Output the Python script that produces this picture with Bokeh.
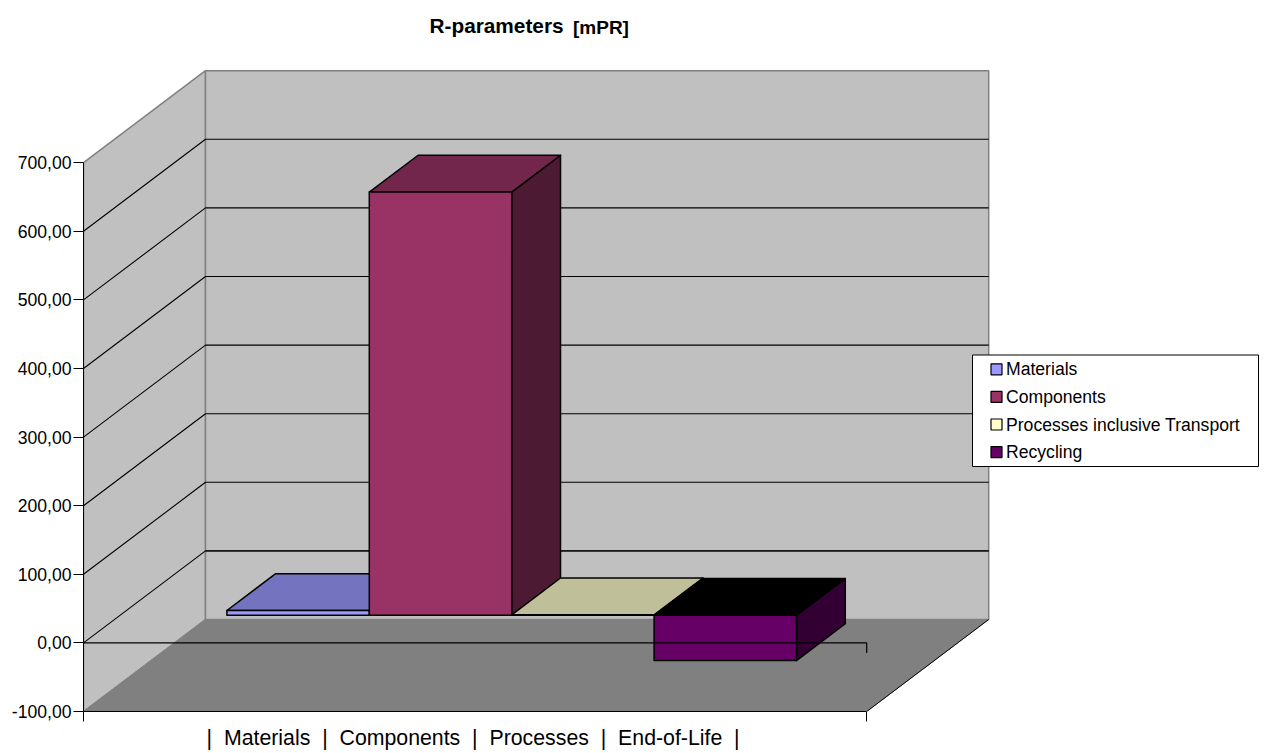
from bokeh.core.properties import value
from bokeh.embed import file_html
from bokeh.models import FixedTicker, Range1d
from bokeh.plotting import figure
from bokeh.resources import INLINE

# Chart data
series = ["Materials", "Components", "Processes inclusive Transport", "Recycling"]
values = [7.0, 617.0, 0.7, -66.0]
front_colors = ["#9999FF", "#993366", "#FFFFCC", "#660066"]
top_colors = ["#7373BF", "#73264C", "#BFBF99", "#000000"]
side_colors = ["#4C4C80", "#4C1A33", "#808066", "#330033"]
y_ticks = [-100, 0, 100, 200, 300, 400, 500, 600, 700]
y_tick_labels = ["-100,00", "0,00", "100,00", "200,00", "300,00", "400,00", "500,00", "600,00", "700,00"]
# Non-breaking spaces keep the wide gaps around the separators
category_label = ("| \u00a0Materials \u00a0| \u00a0Components \u00a0| "
                  "\u00a0Processes \u00a0| \u00a0End-of-Life \u00a0|")

# Page layout in pixels
W, H = 1264, 753
LEFT, BOTTOM = 83, 711
PX_PER_X = 142.4      # one bar width
PX_PER_VALUE = 0.686
FLOOR_WIDTH = 5.5     # four bars plus the 150 % gap, in bar widths
DEPTH_X = 122 / PX_PER_X
DEPTH_V = 92 / PX_PER_VALUE
BAR_D0, BAR_D1 = 0.3, 0.7
Y_MIN, Y_MAX = -100, 700
FONT = value("Liberation Sans")


def project(x, v, d):
    """Oblique projection of a point at depth d (0 front, 1 back wall)."""
    return x + DEPTH_X * d, v + DEPTH_V * d


def poly(points):
    xs, ys = zip(*[project(*pt) for pt in points])
    return list(xs), list(ys)


def px(x_px, y_px):
    """Page pixel position to data position, for the title and legend."""
    return (x_px - LEFT) / PX_PER_X, Y_MIN + (BOTTOM - y_px) / PX_PER_VALUE


p = figure(
    width=W, height=H, output_backend="svg", toolbar_location=None,
    x_range=Range1d(0, (W - LEFT) / PX_PER_X),
    y_range=Range1d(Y_MIN, Y_MIN + BOTTOM / PX_PER_VALUE),
    min_border_left=LEFT, min_border_right=0, min_border_top=0, min_border_bottom=H - BOTTOM,
    outline_line_color=None, background_fill_color="white", border_fill_color="white",
)
p.grid.visible = False

# Axes
yaxis = p.yaxis[0]
yaxis.ticker = FixedTicker(ticks=y_ticks)
yaxis.major_label_overrides = {t: s for t, s in zip(y_ticks, y_tick_labels)}
yaxis.bounds = (Y_MIN, Y_MAX)
yaxis.major_tick_in = 0
yaxis.major_tick_out = 10
yaxis.minor_tick_line_color = None
yaxis.axis_line_color = "black"
yaxis.major_tick_line_color = "black"
yaxis.major_label_text_font = "Liberation Sans"
yaxis.major_label_text_font_size = "17.6px"
yaxis.major_label_text_color = "black"
yaxis.major_label_standoff = 2

# One caption tick under the floor, with end ticks drawn as minor ticks
caption_x = FLOOR_WIDTH / 2 - 2 / PX_PER_X
xaxis = p.xaxis[0]
xaxis.ticker = FixedTicker(ticks=[caption_x], minor_ticks=[0, FLOOR_WIDTH])
xaxis.major_label_overrides = {caption_x: category_label}
xaxis.bounds = (0, FLOOR_WIDTH)
xaxis.major_tick_line_color = None
xaxis.major_tick_in = 0
xaxis.major_tick_out = 0
xaxis.minor_tick_in = 0
xaxis.minor_tick_out = 10
xaxis.minor_tick_line_color = "black"
xaxis.axis_line_color = "black"
xaxis.major_label_text_font = "Liberation Sans"
xaxis.major_label_text_font_size = "21.3px"
xaxis.major_label_text_color = "black"
xaxis.major_label_standoff = 4

# Walls and floor
wall = dict(fill_color="#C0C0C0", line_color="#808080", line_width=1.5)
p.patch(*poly([(0, Y_MIN, 0), (0, Y_MAX, 0), (0, Y_MAX, 1), (0, Y_MIN, 1)]), **wall)
p.patch(*poly([(0, Y_MIN, 1), (0, Y_MAX, 1), (FLOOR_WIDTH, Y_MAX, 1), (FLOOR_WIDTH, Y_MIN, 1)]), **wall)
p.patch(*poly([(0, Y_MIN, 0), (FLOOR_WIDTH, Y_MIN, 0), (FLOOR_WIDTH, Y_MIN, 1), (0, Y_MIN, 1)]),
        fill_color="#808080", line_color="#808080", line_width=1)
p.line(*poly([(FLOOR_WIDTH, Y_MIN, 0), (FLOOR_WIDTH, Y_MIN, 1)]), line_color="black", line_width=1)

# Gridlines across the left wall and back wall
for t in y_ticks[1:-1]:
    p.line(*poly([(0, t, 0), (0, t, 1), (FLOOR_WIDTH, t, 1)]), line_color="black", line_width=1.1)
p.line(*poly([(0, 0, 1), (FLOOR_WIDTH, 0, 1)]), line_color="#111111", line_width=1.4)

# Bars: oblique top and side faces, then the front face
edge = dict(line_color="black", line_width=1.5, line_join="round")
for i, v in enumerate(values):
    x0 = 0.75 + i
    x1 = x0 + 1
    top = max(v, 0)
    low = min(v, 0)
    p.patch(*poly([(x1, low, BAR_D0), (x1, top, BAR_D0), (x1, top, BAR_D1), (x1, low, BAR_D1)]),
            fill_color=side_colors[i], **edge)
    p.patch(*poly([(x0, top, BAR_D0), (x1, top, BAR_D0), (x1, top, BAR_D1), (x0, top, BAR_D1)]),
            fill_color=top_colors[i], **edge)
    fx0, fy0 = project(x0, low, BAR_D0)
    fx1, fy1 = project(x1, top, BAR_D0)
    p.quad(left=[fx0], right=[fx1], bottom=[fy0], top=[fy1], fill_color=front_colors[i], **edge)

# Zero axis runs in front of the bars, with an end tick
p.line([0, FLOOR_WIDTH, FLOOR_WIDTH], [0, 0, -10 / PX_PER_VALUE], line_color="black", line_width=1.2)

# Title
tx, ty = px(429, 25)
p.text([tx], [ty], text=["R-parameters"], text_font=FONT, text_font_style="bold",
       text_font_size="20.8px", text_color="black", text_baseline="alphabetic")
tx, ty = px(572.5, 26.5)
p.text([tx], [ty], text=["[mPR]"], text_font=FONT, text_font_style="bold",
       text_font_size="19px", text_color="black", text_baseline="alphabetic")

# Legend box, swatches and labels
lx0, ly0 = px(972, 466)
lx1, ly1 = px(1258, 354.5)
p.quad(left=[lx0], right=[lx1], bottom=[ly0], top=[ly1], fill_color="white", line_color="black", line_width=1)
for i, name in enumerate(series):
    cy = 368.8 + i * 27.6
    sx0, sy0 = px(990.5, cy + 5.5)
    sx1, sy1 = px(1001.5, cy - 5.5)
    p.quad(left=[sx0], right=[sx1], bottom=[sy0], top=[sy1], fill_color=front_colors[i],
           line_color="black", line_width=1.2)
    tx, ty = px(1005.5, cy)
    p.text([tx], [ty], text=[name], text_font=FONT, text_font_size="17.6px",
           text_color="black", text_baseline="middle")

open("out.html", "w").write(file_html(p, INLINE))
